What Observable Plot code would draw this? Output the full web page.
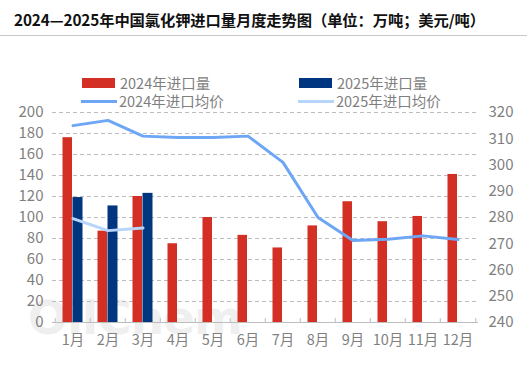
<!DOCTYPE html>
<html>
<head>
<meta charset="utf-8">
<script src="https://cdn.jsdelivr.net/npm/d3@7"></script>
<script src="https://cdn.jsdelivr.net/npm/@observablehq/plot@0.6"></script>
<style>
  html, body { margin: 0; padding: 0; background: #fff; width: 527px; height: 372px; overflow: hidden; }
  body { position: relative; font-family: "Noto Sans CJK SC", "Noto Sans", sans-serif; }
  #title { position: absolute; left: 14px; top: 8px; font-size: 15.3px; font-weight: bold; color: #111; white-space: nowrap; letter-spacing: -0.1px; }
  #rule { position: absolute; left: 0; top: 35px; width: 527px; height: 0; border-top: 1px solid #c8c8c8; }
  .leg { position: absolute; font-size: 14.5px; color: #7f7f7f; white-space: nowrap; line-height: 18px; }
  .sw { position: absolute; }
  #wm { position: absolute; left: 28px; top: 290px; font-family: "DejaVu Sans", sans-serif; font-size: 47px; font-weight: bold; color: #efefef; letter-spacing: -1px; }
  #chart { position: absolute; left: 0; top: 100px; }
</style>
</head>
<body>
<div id="wm">OilChem</div>
<div id="title">2024—2025年中国氯化钾进口量月度走势图（单位：万吨；美元/吨）</div>
<div id="rule"></div>
<div id="legend"></div>
<div id="chart"></div>
<script>
const months = ["1月","2月","3月","4月","5月","6月","7月","8月","9月","10月","11月","12月"];
const import2024 = [176, 87, 120, 75, 100, 83, 71, 92, 115, 96, 101, 141];
const import2025 = [119, 111, 123];
const price2024 = [315, 317, 311, 310.5, 310.5, 311, 301, 280, 271.2, 271.7, 273, 271.6];
const price2025 = [279.6, 275, 276];
const leftTicks = [0, 20, 40, 60, 80, 100, 120, 140, 160, 180, 200];
const rightTicks = [240, 250, 260, 270, 280, 290, 300, 310, 320];
const seriesNames = ["2024年进口量", "2025年进口量", "2024年进口均价", "2025年进口均价"];
const colors = ["#d32f24", "#00367f", "#6ea6f6", "#b7d4fa"];

// right axis maps [240,320] onto left [0,200]
const toLeft = p => (p - 240) * 2.5;

const d24 = months.map((m, i) => ({month: m, value: import2024[i]}));
const d25 = import2025.map((v, i) => ({month: months[i], value: v}));
const p24 = months.map((m, i) => ({month: m, price: price2024[i]}));
const p25 = price2025.map((v, i) => ({month: months[i], price: v}));

const gray = "#7f7f7f";
const chart = Plot.plot({
  width: 527,
  height: 272,
  marginTop: 12,
  marginBottom: 50,
  marginLeft: 52,
  marginRight: 49,
  style: {fontFamily: '"Noto Sans CJK SC", "Noto Sans", sans-serif', background: "transparent", overflow: "visible"},
  x: {domain: months, padding: 0, axis: null, label: null},
  y: {domain: [0, 200], axis: null, label: null},
  marks: [
    Plot.ruleY(leftTicks.filter(t => t > 0), {stroke: "#bdbdbd", strokeDasharray: "4,3", strokeWidth: 1}),
    Plot.barY(d24, {x: "month", y: "value", fill: colors[0], insetLeft: 7.5, insetRight: 18}),
    Plot.barY(d25, {x: "month", y: "value", fill: colors[1], insetLeft: 17.5, insetRight: 7.5}),
    Plot.ruleY([0], {stroke: "#bdbdbd", strokeWidth: 1.2}),
    Plot.ruleX(months, {x: d => d, dx: -17.75, y1: 0, y2: 3.8, stroke: "#bdbdbd"}),
    Plot.ruleX([months[11]], {x: d => d, dx: 17.75, y1: 0, y2: 3.8, stroke: "#bdbdbd"}),
    Plot.line(p24, {x: "month", y: d => toLeft(d.price), stroke: colors[2], strokeWidth: 3}),
    Plot.line(p25, {x: "month", y: d => toLeft(d.price), stroke: colors[3], strokeWidth: 3}),
    Plot.axisX({tickSize: 0, tickPadding: 12, fontSize: 14.5, fill: gray, label: null}),
    Plot.axisY(leftTicks, {anchor: "left", tickSize: 0, tickPadding: 9, fontSize: 15, fill: gray, label: null}),
    Plot.axisY(rightTicks.map(toLeft), {anchor: "right", tickSize: 0, tickPadding: 10, fontSize: 15, fill: gray, label: null, tickFormat: v => String(Math.round(v / 2.5 + 240))})
  ]
});
document.getElementById("chart").appendChild(chart);

// legend
const legend = document.getElementById("legend");
const legItems = [
  {name: seriesNames[0], color: colors[0], type: "rect", x: 82, y: 83},
  {name: seriesNames[1], color: colors[1], type: "rect", x: 299, y: 83},
  {name: seriesNames[2], color: colors[2], type: "line", x: 81, y: 101},
  {name: seriesNames[3], color: colors[3], type: "line", x: 298, y: 101}
];
for (const it of legItems) {
  const sw = document.createElement("div");
  sw.className = "sw";
  sw.style.background = it.color;
  if (it.type === "rect") {
    sw.style.left = it.x + "px"; sw.style.top = (it.y - 5) + "px";
    sw.style.width = "33px"; sw.style.height = "10px";
  } else {
    sw.style.left = it.x + "px"; sw.style.top = (it.y - 1.5) + "px";
    sw.style.width = "36px"; sw.style.height = "3px";
  }
  legend.appendChild(sw);
  const t = document.createElement("div");
  t.className = "leg";
  t.textContent = it.name;
  t.style.left = (it.x + 38) + "px";
  t.style.top = (it.y - 9) + "px";
  legend.appendChild(t);
}
</script>
</body>
</html>
